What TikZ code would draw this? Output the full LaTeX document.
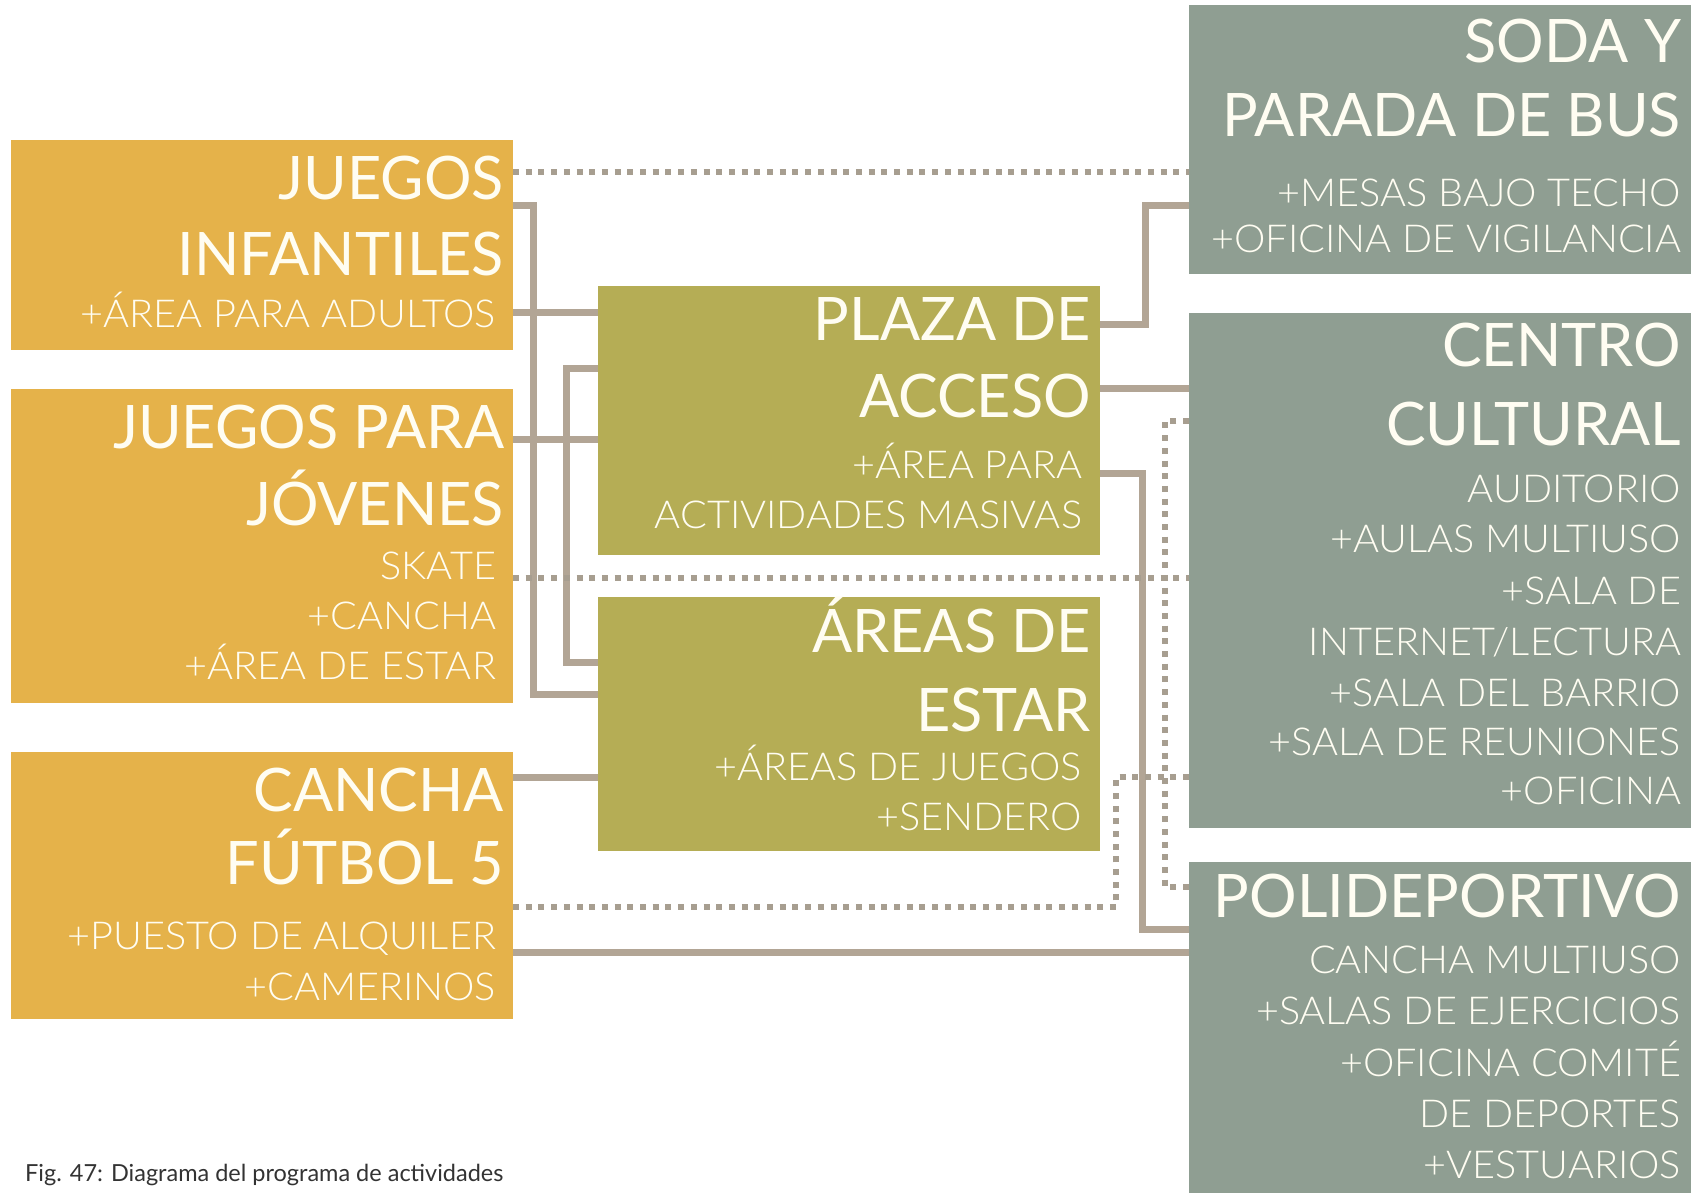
\documentclass[tikz,border=0pt]{standalone}
\usepackage{fontspec}
\setmainfont{Lato}
\newfontfamily\titlefam{Lato}[FakeStretch=0.99]
\newfontfamily\lightfam{Lato Light}[FakeStretch=1.03]
\newfontfamily\capfam{Lato}
\usetikzlibrary{fit}
\definecolor{boxorange}{HTML}{E5B24A}
\definecolor{boxolive}{HTML}{B5AD55}
\definecolor{boxgray}{HTML}{8F9E92}
\definecolor{linkc}{HTML}{B2A595}
\definecolor{dotc}{HTML}{A79E90}
\definecolor{capc}{HTML}{333333}
\definecolor{txtc}{HTML}{FFFDF2}
\newcommand\tline[5]{\node[#1] (#2) at (#3,#4) {#5};}
\begin{document}
\begin{tikzpicture}[x=1pt,y=-1pt,
  box/.style={inner sep=0pt, outer sep=0pt, draw=none},
  obox/.style={box, fill=boxorange},
  lbox/.style={box, fill=boxolive},
  gbox/.style={box, fill=boxgray},
  link/.style={draw=linkc, line width=7pt, line join=miter},
  dots/.style={draw=dotc, line width=6pt, dash pattern=on 6pt off 6.7pt},
  ttl/.style={anchor=base east, inner sep=0pt, outer sep=0pt, text=txtc, font=\titlefam\fontsize{60}{60}\selectfont},
  sbt/.style={anchor=base east, inner sep=0pt, outer sep=0pt, text=txtc, font=\lightfam\fontsize{38.5}{38.5}\selectfont},
  capt/.style={anchor=base west, inner sep=0pt, text=capc, font=\capfam\fontsize{23.5}{23.5}\selectfont}
]
\useasboundingbox (0,0) rectangle (1691,1193);
\fill[white] (0,0) rectangle (1691,1193);

% boxes
\node[obox, fit={(11,140) (513,350)}] (ji) {};
\node[obox, fit={(11,389) (513,703)}] (jj) {};
\node[obox, fit={(11,752) (513,1019)}] (cf) {};
\node[lbox, fit={(598,286) (1100,555)}] (pa) {};
\node[lbox, fit={(598,597) (1100,851)}] (ae) {};
\node[gbox, fit={(1189,5) (1691,274)}] (sb) {};
\node[gbox, fit={(1189,313) (1691,828)}] (cc) {};
\node[gbox, fit={(1189,862) (1691,1193)}] (pd) {};

% connectors
\draw[dots] (ji.east |- 0,172) -- (sb.west |- 0,172);
\draw[link] (ji.east |- 0,206) -| (533,694) -- (ae.west |- 0,694);
\draw[link] (ji.east |- 0,312) -- (pa.west |- 0,312);
\draw[link] (pa.west |- 0,368) -| (566,662) -- (ae.west |- 0,662);
\draw[link] (jj.east |- 0,439) -- (pa.west |- 0,439);
\draw[link] (cf.east |- 0,777) -- (ae.west |- 0,777);
\draw[link] (cf.east |- 0,952) -- (pd.west |- 0,952);
\draw[link] (pa.east |- 0,324) -| (1145,206) -- (sb.west |- 0,206);
\draw[link] (pa.east |- 0,388) -- (cc.west |- 0,388);
\draw[link] (pa.east |- 0,473) -| (1142,929) -- (pd.west |- 0,929);
\draw[dots] (jj.east |- 0,578) -- (cc.west |- 0,578);
\draw[dots] (cf.east |- 0,907) -| (1116,777) -- (cc.west |- 0,777);
\draw[dots] (cc.west |- 0,421) -| (1165,887) -- (pd.west |- 0,887);

% texts: left column
\tline{ttl}{ji1}{504}{200}{JUEGOS}
\tline{ttl}{ji2}{504}{275}{INFANTILES}
\tline{sbt}{ji3}{496}{327}{+ÁREA PARA ADULTOS}
\tline{ttl}{jj1}{504}{448}{JUEGOS PARA}
\tline{ttl}{jj2}{504}{525}{JÓVENES}
\tline{sbt}{jj3}{496}{579}{SKATE}
\tline{sbt}{jj4}{496}{629}{+CANCHA}
\tline{sbt}{jj5}{496}{679}{+ÁREA DE ESTAR}
\tline{ttl}{cf1}{504}{811}{CANCHA}
\tline{ttl}{cf2}{504}{884}{FÚTBOL 5}
\tline{sbt}{cf3}{496}{949}{+PUESTO DE ALQUILER}
\tline{sbt}{cf4}{496}{1000}{+CAMERINOS}
% middle column
\tline{ttl}{pa1}{1091}{340}{PLAZA DE}
\tline{ttl}{pa2}{1091}{417}{ACCESO}
\tline{sbt}{pa3}{1082}{478}{+ÁREA PARA}
\tline{sbt}{pa4}{1082}{528}{ACTIVIDADES MASIVAS}
\tline{ttl}{ae1}{1091}{652}{ÁREAS DE}
\tline{ttl}{ae2}{1091}{731}{ESTAR}
\tline{sbt}{ae3}{1082}{780}{+ÁREAS DE JUEGOS}
\tline{sbt}{ae4}{1082}{830}{+SENDERO}
% right column
\tline{ttl}{sb1}{1681}{63}{SODA Y}
\tline{ttl}{sb2}{1681}{137}{PARADA DE BUS}
\tline{sbt}{sb3}{1681}{207}{+MESAS BAJO TECHO}
\tline{sbt}{sb4}{1681}{252}{+OFICINA DE VIGILANCIA}
\tline{ttl}{cc1}{1681}{366}{CENTRO}
\tline{ttl}{cc2}{1681}{445}{CULTURAL}
\tline{sbt}{cc3}{1681}{502}{AUDITORIO}
\tline{sbt}{cc4}{1681}{552}{+AULAS MULTIUSO}
\tline{sbt}{cc5}{1681}{604}{+SALA DE}
\tline{sbt}{cc6}{1681}{655}{INTERNET/LECTURA}
\tline{sbt}{cc7}{1681}{706}{+SALA DEL BARRIO}
\tline{sbt}{cc8}{1681}{755}{+SALA DE REUNIONES}
\tline{sbt}{cc9}{1681}{804}{+OFICINA}
\tline{ttl}{pd1}{1681}{917}{POLIDEPORTIVO}
\tline{sbt}{pd2}{1681}{973}{CANCHA MULTIUSO}
\tline{sbt}{pd3}{1681}{1024}{+SALAS DE EJERCICIOS}
\tline{sbt}{pd4}{1681}{1076}{+OFICINA COMITÉ}
\tline{sbt}{pd5}{1681}{1127}{DE DEPORTES}
\tline{sbt}{pd6}{1681}{1178}{+VESTUARIOS}

% caption
\node[capt] (cap) at (25,1181) {Fig. 47: Diagrama del programa de actividades};
\end{tikzpicture}
\end{document}
